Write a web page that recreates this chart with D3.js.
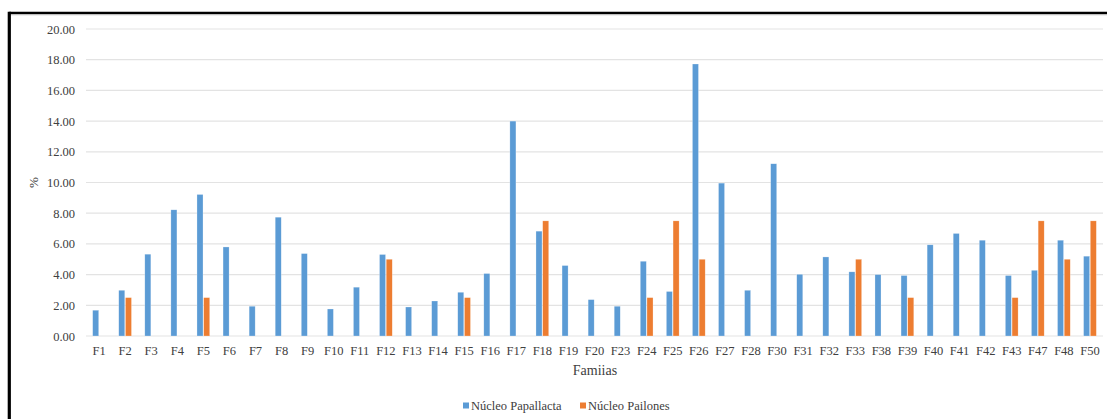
<!DOCTYPE html>
<html>
<head>
<meta charset="utf-8">
<script src="https://cdn.jsdelivr.net/npm/d3@7"></script>
<style>
  html, body { margin: 0; padding: 0; background: #fff; }
  svg { display: block; }
</style>
</head>
<body>
<svg id="chart" width="1107" height="419"></svg>
<script>
// Families on the x axis
const familias = ["F1","F2","F3","F4","F5","F6","F7","F8","F9","F10","F11","F12","F13","F14","F15","F16","F17","F18","F19","F20","F23","F24","F25","F26","F27","F28","F30","F31","F32","F33","F38","F39","F40","F41","F42","F43","F47","F48","F50"];

// Percentage per family, Núcleo Papallacta
const papallacta = [1.68,2.98,5.33,8.22,9.22,5.80,1.94,7.74,5.37,1.76,3.18,5.31,1.89,2.28,2.85,4.07,14.00,6.83,4.59,2.37,1.94,4.87,2.90,17.72,9.96,2.98,11.22,4.02,5.15,4.18,4.00,3.94,5.94,6.68,6.24,3.94,4.28,6.24,5.20];

// Percentage per family, Núcleo Pailones (0 = absent)
const pailones = [0,2.5,0,0,2.5,0,0,0,0,0,0,5.0,0,0,2.5,0,0,7.5,0,0,0,2.5,7.5,5.0,0,0,0,0,0,5.0,0,2.5,0,0,0,2.5,7.5,5.0,7.5];

const seriesNames = ["Núcleo Papallacta", "Núcleo Pailones"];
const seriesColors = ["#5B9BD5", "#ED7D31"];
const yTicks = [0,2,4,6,8,10,12,14,16,18,20];

const FONT = "'Liberation Serif', Tinos, 'Times New Roman', Times, 'DejaVu Serif', serif";
const INK = "#404040";

const svg = d3.select("#chart").style("font-family", FONT);
const plot = { left: 86, right: 1103, top: 29, bottom: 336 };

const x0 = d3.scaleBand().domain(familias).range([plot.left, plot.right]).padding(0);
const x1 = d3.scaleBand().domain(seriesNames).range([x0.bandwidth() * 0.23, x0.bandwidth() * 0.77]).padding(0.1);
const y = d3.scaleLinear().domain([0, 20]).range([plot.bottom, plot.top]);

// Frame
svg.append("line").attr("x1", 9.3).attr("x2", 1107).attr("y1", 13).attr("y2", 13)
  .attr("stroke", "#000").attr("stroke-width", 2.6);
svg.append("line").attr("x1", 9.3).attr("x2", 9.3).attr("y1", 11.7).attr("y2", 419)
  .attr("stroke", "#000").attr("stroke-width", 3.2);
svg.append("line").attr("x1", 11).attr("x2", 1107).attr("y1", 14.8).attr("y2", 14.8)
  .attr("stroke", "#bbb").attr("stroke-width", 0.8);

// Gridlines
svg.append("g")
  .selectAll("line").data(yTicks).join("line")
  .attr("x1", plot.left).attr("x2", plot.right)
  .attr("y1", d => y(d)).attr("y2", d => y(d))
  .attr("stroke", "#e3e3e3").attr("stroke-width", 1.2);

// Y axis labels
const yAxis = d3.axisLeft(y).tickValues(yTicks).tickFormat(d3.format(".2f")).tickSize(0).tickPadding(0);
const gy = svg.append("g").attr("transform", `translate(${plot.left - 11},0)`).call(yAxis);
gy.select(".domain").remove();
gy.selectAll("text").style("font-family", FONT).style("font-size", "12.5px").attr("fill", INK);

// X axis labels
const xAxis = d3.axisBottom(x0).tickSize(0).tickPadding(0);
const gx = svg.append("g").attr("transform", `translate(0,${plot.bottom + 10})`).call(xAxis);
gx.select(".domain").remove();
gx.selectAll("text").style("font-family", FONT).style("font-size", "12.5px").attr("fill", INK);

// Bars
const rows = familias.map((f, i) => ({ f, vals: [papallacta[i], pailones[i]] }));
const groups = svg.append("g").selectAll("g").data(rows).join("g")
  .attr("transform", d => `translate(${x0(d.f)},0)`);
groups.selectAll("rect")
  .data(d => d.vals.map((v, k) => ({ k, v })).filter(e => e.v > 0))
  .join("rect")
  .attr("x", e => x1(seriesNames[e.k]))
  .attr("width", x1.bandwidth())
  .attr("y", e => y(e.v))
  .attr("height", e => y(0) - y(e.v))
  .attr("fill", e => seriesColors[e.k])
  .attr("stroke", "#fff").attr("stroke-opacity", 0.5).attr("stroke-width", 0.5);

// Axis titles
svg.append("text").attr("x", 595).attr("y", 375).attr("text-anchor", "middle")
  .style("font-family", FONT).style("font-size", "14px").attr("fill", INK).text("Famiias");
svg.append("text").attr("transform", "translate(38,182.5) rotate(-90)")
  .attr("text-anchor", "middle").style("font-family", FONT).style("font-size", "13px")
  .attr("fill", INK).text("%");

// Legend
const legendX = [463, 580];
const lg = svg.append("g").selectAll("g").data(seriesNames).join("g")
  .attr("transform", (d, i) => `translate(${legendX[i]},406)`);
lg.append("rect").attr("x", 0).attr("y", -3.5).attr("width", 6).attr("height", 6)
  .attr("fill", (d, i) => seriesColors[i]);
lg.append("text").attr("x", 8).attr("y", 4.3).style("font-family", FONT).style("font-size", "12.5px")
  .attr("fill", INK).text(d => d);
</script>
</body>
</html>
